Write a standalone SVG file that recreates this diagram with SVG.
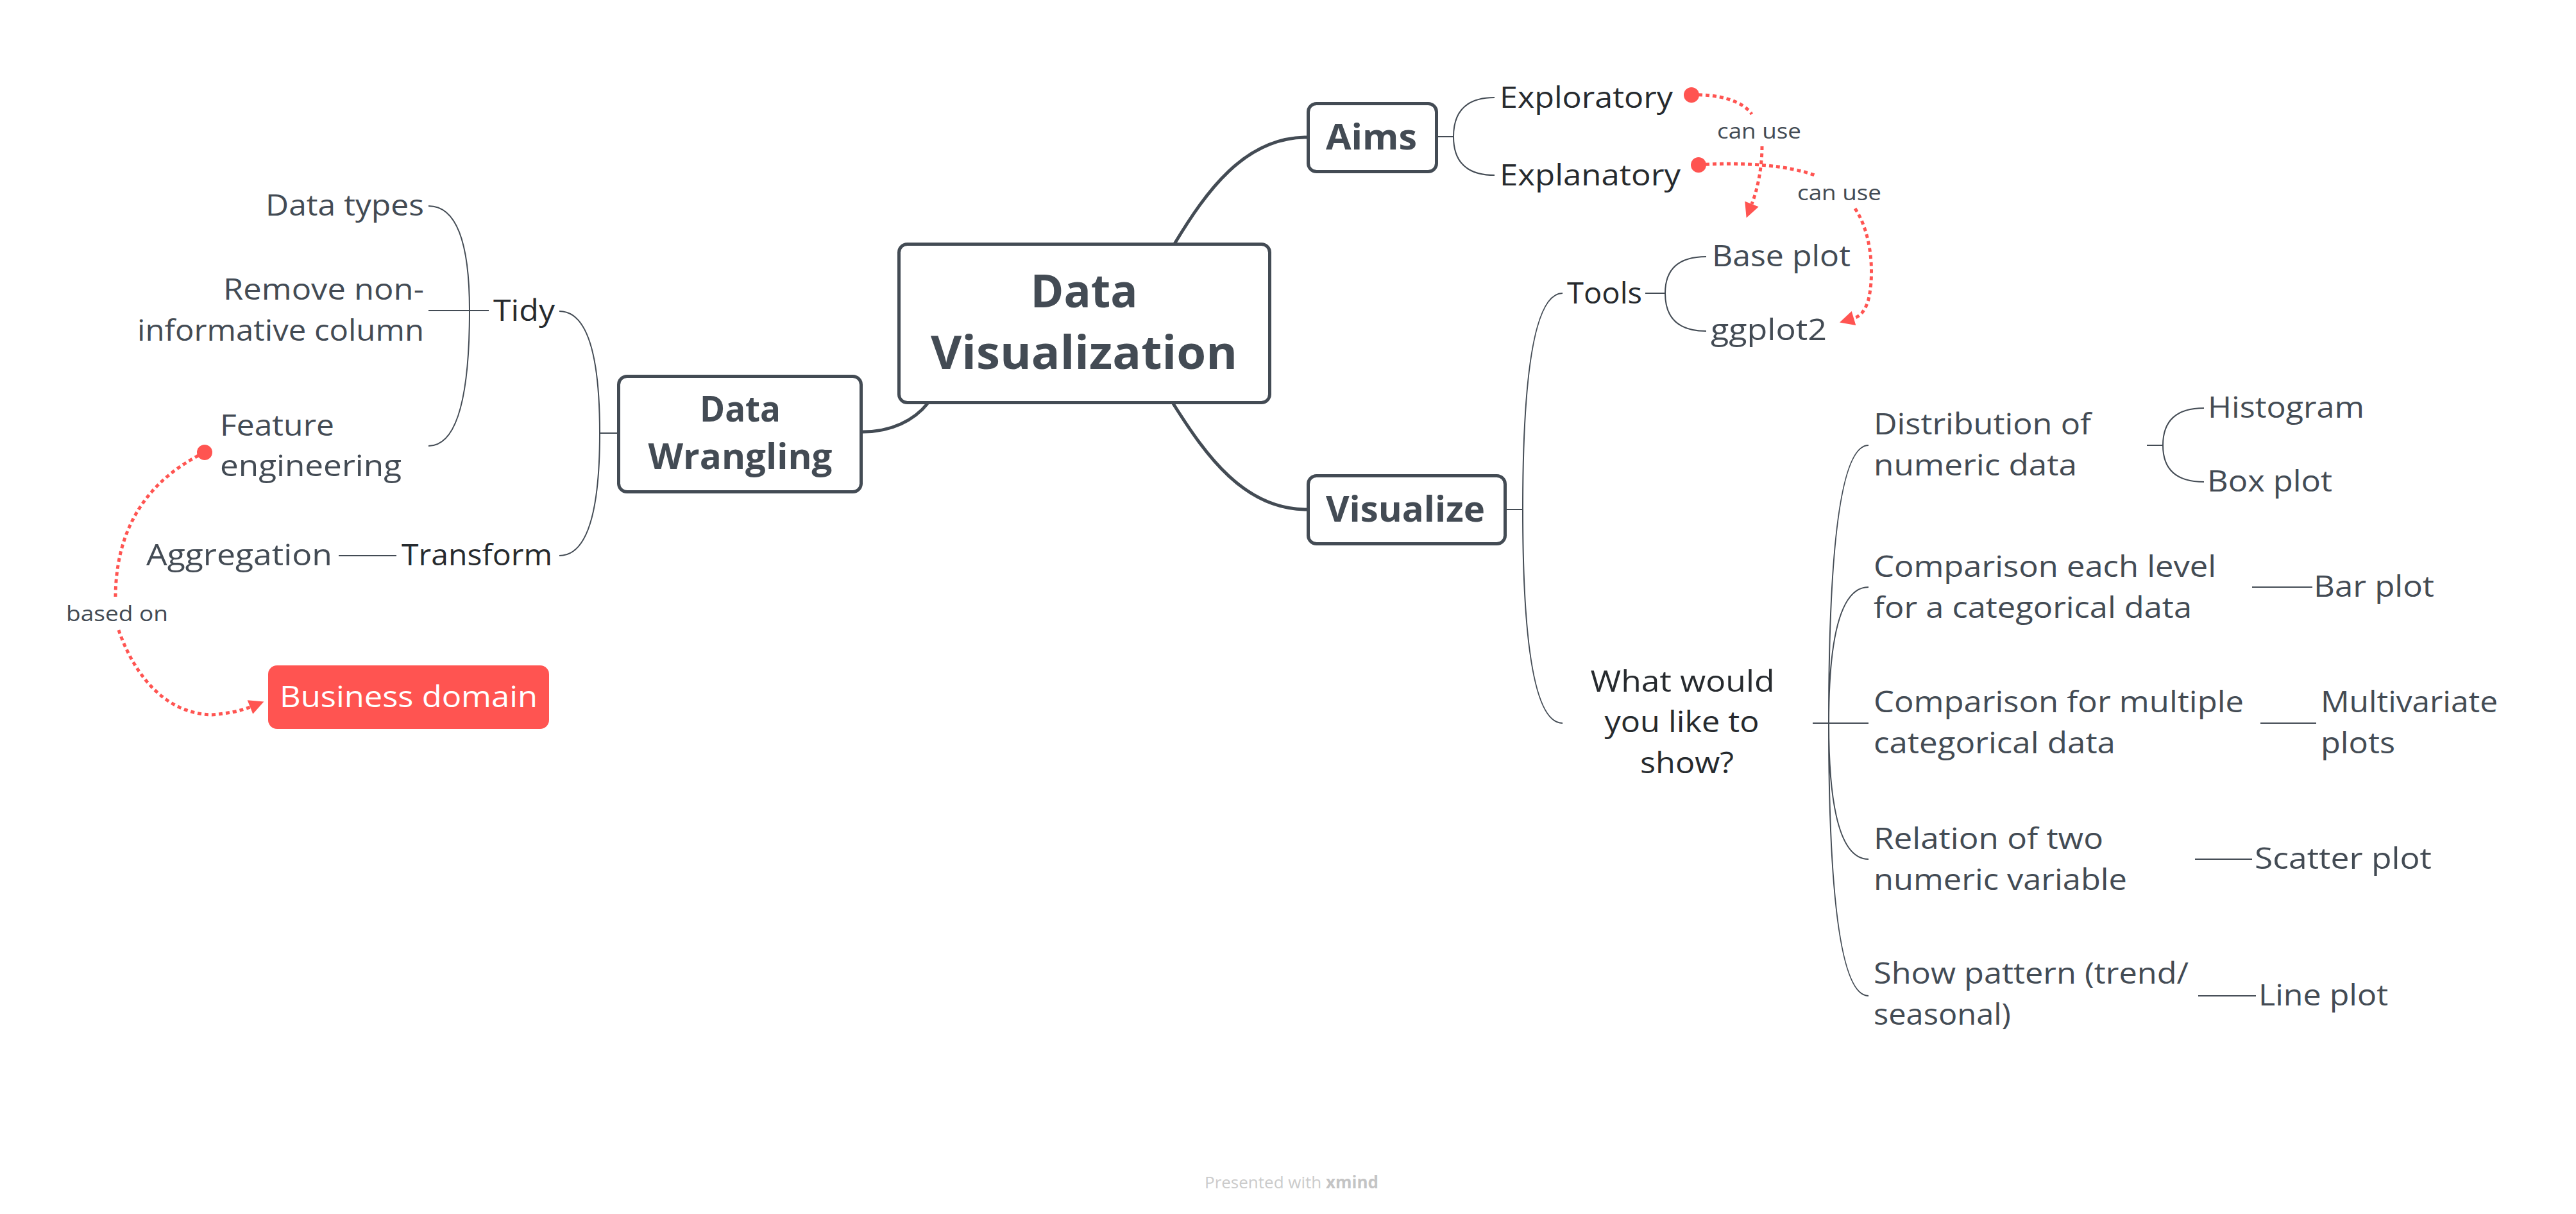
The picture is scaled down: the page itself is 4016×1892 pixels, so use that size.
<svg xmlns="http://www.w3.org/2000/svg" width="4016" height="1892" viewBox="0 0 4016 1892">
<style>
.t{font-family:"Open Sans","Liberation Sans",sans-serif;font-size:45px;fill:#434B54}
.d{fill:#262A2E}
.b{font-weight:700;font-size:55px}
.c{font-weight:700;font-size:72px}
.lbl{font-size:33px}
.box{fill:#fff;stroke:#434B54;stroke-width:5}
.thick{fill:none;stroke:#434B54;stroke-width:5}
.thin{fill:none;stroke:#434B54;stroke-width:2}
.rel{fill:none;stroke:#FF5451;stroke-width:5;stroke-dasharray:6 5}
.foot{font-family:"Open Sans","Liberation Sans",sans-serif;font-size:26px;fill:#CBCBCB}
</style>
<defs>
<marker id="arr" viewBox="0 0 10 10" refX="0" refY="5" markerWidth="24" markerHeight="23" markerUnits="userSpaceOnUse" orient="auto"><path d="M0,0 L10,5 L0,10 z" fill="#FF5451"/></marker>
<marker id="dot" viewBox="0 0 10 10" refX="5" refY="5" markerWidth="24" markerHeight="24" markerUnits="userSpaceOnUse"><circle cx="5" cy="5" r="5" fill="#FF5451"/></marker>
</defs>
<rect width="4016" height="1892" fill="#fff"/>

<g id="connectors">
<path class="thick" d="M1831,380 C1880,299 1940,214 2037,214"/>
<path class="thick" d="M1829,629 C1880,710 1940,794 2037,794"/>
<path class="thick" d="M1446,629 C1425,655 1390,673 1345,673"/>
<path class="thin" d="M2242,213 H2266 M2266,213 Q2266,152 2330,152 M2266,213 Q2266,273 2330,273"/>
<path class="thin" d="M2565,457 H2596 M2596,457 Q2596,400 2660,400 M2596,457 Q2596,516 2660,516"/>
<path class="thin" d="M2349,794 H2374 M2374,794 Q2374,457 2436,457 M2374,794 Q2374,1127 2436,1127"/>
<path class="thin" d="M2826,1127 H2913 M2851,1127 Q2851,694 2913,694 M2851,1127 Q2851,915 2913,915 M2851,1127 Q2851,1339 2913,1339 M2851,1127 Q2851,1552 2913,1552"/>
<path class="thin" d="M3347,694 H3372 M3372,694 Q3372,636 3436,636 M3372,694 Q3372,751 3436,751"/>
<path class="thin" d="M3511,915 H3605"/>
<path class="thin" d="M3524,1127 H3611"/>
<path class="thin" d="M3422,1339 H3511"/>
<path class="thin" d="M3427,1552 H3517"/>
<path class="thin" d="M962,675 H935 M935,675 Q935,485 872,485 M935,675 Q935,866 872,866"/>
<path class="thin" d="M762,484 H668 M732,484 Q732,321 668,321 M732,484 Q732,695 668,695"/>
<path class="thin" d="M528,866 H618"/>
<path class="rel" marker-start="url(#dot)" marker-end="url(#arr)" d="M2637,148 C2680,146 2718,158 2731,178 M2747,228 C2747,262 2740,295 2731,318"/>
<text class="t lbl" x="2677" y="216" textLength="131" lengthAdjust="spacingAndGlyphs">can use</text>
<path class="rel" marker-start="url(#dot)" marker-end="url(#arr)" d="M2648,257 C2720,252 2790,258 2832,274 M2892,325 C2922,370 2921,440 2912,470 C2907,485 2900,493 2890,496"/>
<text class="t lbl" x="2802" y="312" textLength="131" lengthAdjust="spacingAndGlyphs">can use</text>
<path class="rel" marker-start="url(#dot)" marker-end="url(#arr)" d="M319,705 C258,735 181,795 180,930 M185,982 C205,1040 250,1112 330,1114 C355,1112 375,1108 390,1102"/>
<text class="t lbl" x="103" y="968" textLength="159" lengthAdjust="spacingAndGlyphs">based on</text>
</g>

<g id="central">
<rect class="box" x="1401.5" y="380.5" width="578" height="247" rx="13"/>
<text class="t c" x="1690" y="479" text-anchor="middle" textLength="167" lengthAdjust="spacingAndGlyphs">Data</text>
<text class="t c" x="1690" y="575" text-anchor="middle" textLength="478" lengthAdjust="spacingAndGlyphs">Visualization</text>
</g>

<g id="data-wrangling">
<rect class="box" x="964.5" y="586.5" width="378" height="180" rx="13"/>
<text class="t b" x="1154" y="657" text-anchor="middle" textLength="126" lengthAdjust="spacingAndGlyphs">Data</text>
<text class="t b" x="1154" y="731" text-anchor="middle" textLength="287" lengthAdjust="spacingAndGlyphs">Wrangling</text>
</g>

<g id="aims">
<rect class="box" x="2039.5" y="161.5" width="200" height="106" rx="13"/>
<text class="t b" x="2138" y="233" text-anchor="middle" textLength="142" lengthAdjust="spacingAndGlyphs">Aims</text>
</g>

<g id="visualize">
<rect class="box" x="2039.5" y="741.5" width="307" height="106" rx="13"/>
<text class="t b" x="2191" y="813" text-anchor="middle" textLength="248" lengthAdjust="spacingAndGlyphs">Visualize</text>
</g>

<g id="tidy"><text class="t d" x="769" y="500" textLength="96" lengthAdjust="spacingAndGlyphs">Tidy</text></g>
<g id="transform"><text class="t d" x="626" y="881" textLength="235" lengthAdjust="spacingAndGlyphs">Transform</text></g>
<g id="data-types"><text class="t" x="661" y="336" text-anchor="end" textLength="247" lengthAdjust="spacingAndGlyphs">Data types</text></g>
<g id="remove-column">
<text class="t" x="661" y="467" text-anchor="end" textLength="313" lengthAdjust="spacingAndGlyphs">Remove non-</text>
<text class="t" x="661" y="531" text-anchor="end" textLength="447" lengthAdjust="spacingAndGlyphs">informative column</text>
</g>
<g id="feature-engineering">
<text class="t" x="343" y="679" textLength="178" lengthAdjust="spacingAndGlyphs">Feature</text>
<text class="t" x="343" y="742" textLength="283" lengthAdjust="spacingAndGlyphs">engineering</text>
</g>
<g id="aggregation"><text class="t" x="228" y="881" textLength="290" lengthAdjust="spacingAndGlyphs">Aggregation</text></g>
<g id="business-domain">
<rect x="418" y="1037" width="438" height="99" rx="14" fill="#FF5451"/>
<text class="t" x="637" y="1102" text-anchor="middle" fill="#fff" style="fill:#fff" textLength="402" lengthAdjust="spacingAndGlyphs">Business domain</text>
</g>

<g id="exploratory"><text class="t d" x="2338" y="168" textLength="270" lengthAdjust="spacingAndGlyphs">Exploratory</text></g>
<g id="explanatory"><text class="t d" x="2338" y="289" textLength="282" lengthAdjust="spacingAndGlyphs">Explanatory</text></g>
<g id="tools"><text class="t d" x="2443" y="473" textLength="117" lengthAdjust="spacingAndGlyphs">Tools</text></g>
<g id="base-plot"><text class="t" x="2669" y="415" textLength="216" lengthAdjust="spacingAndGlyphs">Base plot</text></g>
<g id="ggplot2"><text class="t" x="2667" y="530" textLength="181" lengthAdjust="spacingAndGlyphs">ggplot2</text></g>

<g id="what-show">
<text class="t d" x="2623" y="1078" text-anchor="middle" textLength="287" lengthAdjust="spacingAndGlyphs">What would</text>
<text class="t d" x="2622" y="1141" text-anchor="middle" textLength="241" lengthAdjust="spacingAndGlyphs">you like to</text>
<text class="t d" x="2630" y="1205" text-anchor="middle" textLength="146" lengthAdjust="spacingAndGlyphs">show?</text>
</g>

<g id="distribution">
<text class="t" x="2921" y="677" textLength="339" lengthAdjust="spacingAndGlyphs">Distribution of</text>
<text class="t" x="2921" y="741" textLength="317" lengthAdjust="spacingAndGlyphs">numeric data</text>
</g>
<g id="histogram"><text class="t" x="3442" y="651" textLength="244" lengthAdjust="spacingAndGlyphs">Histogram</text></g>
<g id="box-plot"><text class="t" x="3441" y="766" textLength="195" lengthAdjust="spacingAndGlyphs">Box plot</text></g>

<g id="comparison-level">
<text class="t" x="2921" y="899" textLength="534" lengthAdjust="spacingAndGlyphs">Comparison each level</text>
<text class="t" x="2921" y="963" textLength="496" lengthAdjust="spacingAndGlyphs">for a categorical data</text>
</g>
<g id="bar-plot"><text class="t" x="3607" y="930" textLength="188" lengthAdjust="spacingAndGlyphs">Bar plot</text></g>

<g id="comparison-multiple">
<text class="t" x="2921" y="1110" textLength="577" lengthAdjust="spacingAndGlyphs">Comparison for multiple</text>
<text class="t" x="2921" y="1174" textLength="377" lengthAdjust="spacingAndGlyphs">categorical data</text>
</g>
<g id="multivariate">
<text class="t" x="3618" y="1110" textLength="276" lengthAdjust="spacingAndGlyphs">Multivariate</text>
<text class="t" x="3618" y="1174" textLength="116" lengthAdjust="spacingAndGlyphs">plots</text>
</g>

<g id="relation">
<text class="t" x="2921" y="1323" textLength="358" lengthAdjust="spacingAndGlyphs">Relation of two</text>
<text class="t" x="2921" y="1387" textLength="395" lengthAdjust="spacingAndGlyphs">numeric variable</text>
</g>
<g id="scatter-plot"><text class="t" x="3515" y="1354" textLength="276" lengthAdjust="spacingAndGlyphs">Scatter plot</text></g>

<g id="show-pattern">
<text class="t" x="2921" y="1533" textLength="491" lengthAdjust="spacingAndGlyphs">Show pattern (trend/</text>
<text class="t" x="2921" y="1597" textLength="214" lengthAdjust="spacingAndGlyphs">seasonal)</text>
</g>
<g id="line-plot"><text class="t" x="3521" y="1567" textLength="202" lengthAdjust="spacingAndGlyphs">Line plot</text></g>

<g id="footer">
<text class="foot" x="1878" y="1852">Presented with <tspan font-weight="700" fill="#C4C4C4">xmind</tspan></text>
</g>
</svg>
